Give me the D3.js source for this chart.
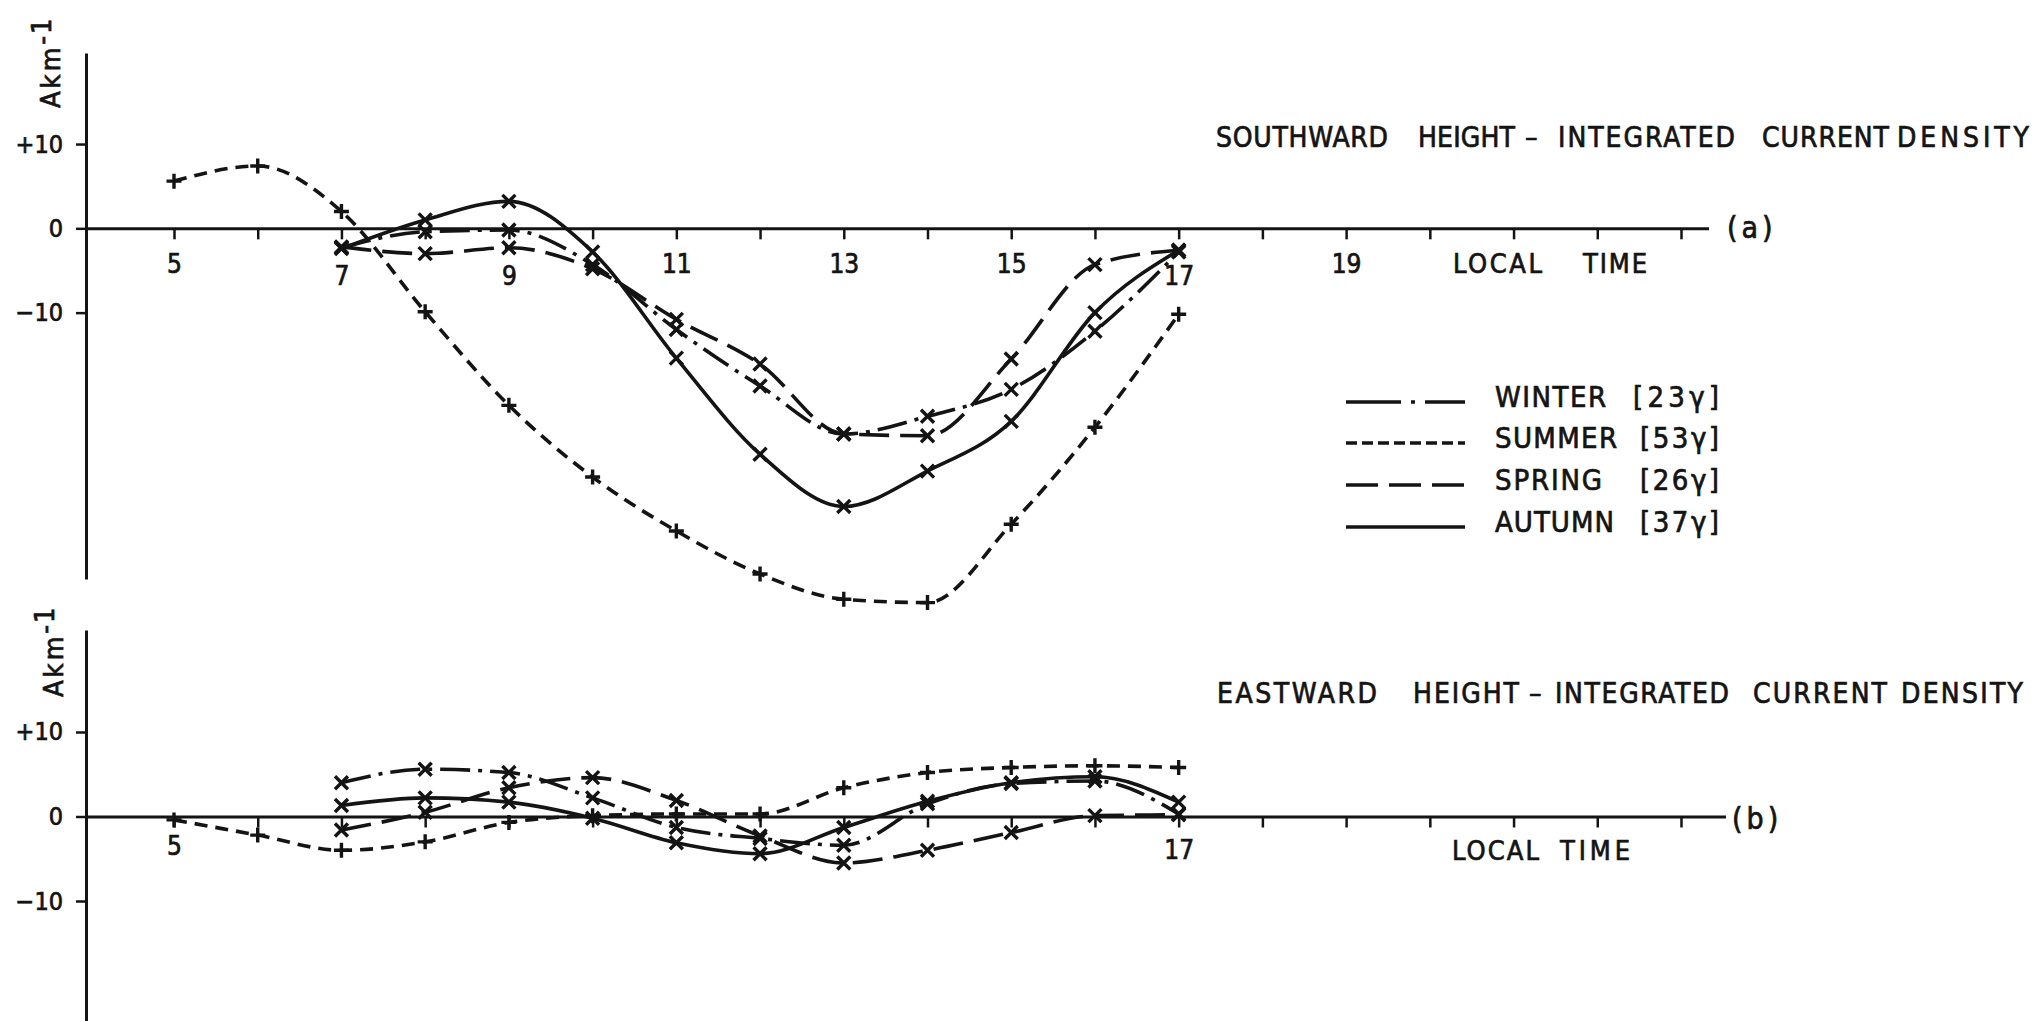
<!DOCTYPE html>
<html>
<head>
<meta charset="utf-8">
<title>Height-integrated current density</title>
<script src="https://cdn.jsdelivr.net/npm/d3@7"></script>
<style>
  html, body { margin: 0; background: #fff; }
  svg { display: block; }
  text { font-family: "DejaVu Sans Condensed", "Liberation Sans Narrow", sans-serif; fill: #141414; stroke: #141414; stroke-width: 0.7px; }
</style>
</head>
<body>
<svg id="chart" width="2044" height="1021"></svg>
<script>
// Local time (hours) of the hourly means
const hoursSummer = [5, 6, 7, 8, 9, 10, 11, 12, 13, 14, 15, 16, 17];
const hoursSeason = [7, 8, 9, 10, 11, 12, 13, 14, 15, 16, 17];

// (a) Southward height-integrated current density, A km^-1
const southSummer = [5.6, 7.4, 2.0, -9.9, -21.0, -29.5, -35.9, -41.0, -44.0, -44.4, -35.1, -23.6, -10.2];
const southWinter = [-2.3, -0.4, -0.2, -4.3, -12.0, -18.7, -24.4, -22.3, -19.1, -12.2, -2.8];
const southSpring = [-2.2, -3.0, -2.3, -4.8, -10.8, -16.1, -24.4, -24.6, -15.5, -4.3, -2.6];
const southAutumn = [-2.4, 1.0, 3.2, -2.8, -15.4, -26.8, -33.0, -28.8, -22.9, -10.0, -2.6];

// (b) Eastward height-integrated current density, A km^-1
const eastSummer = [-0.4, -2.2, -4.0, -3.0, -0.7, 0.1, 0.3, 0.3, 3.4, 5.2, 5.8, 6.0, 5.8];
const eastWinter = [4.0, 5.6, 5.2, 2.2, -1.3, -2.6, -3.4, 1.5, 3.9, 4.2, 0.3];
const eastSpring = [-1.6, 0.5, 3.4, 4.6, 1.9, -2.3, -5.5, -4.0, -1.9, 0.1, 0.2];
const eastAutumn = [1.3, 2.2, 1.7, -0.2, -3.1, -4.4, -1.3, 1.8, 4.0, 4.7, 1.7];

// Seasons and their mean magnetic disturbance
const seasonNames = ["WINTER", "SUMMER", "SPRING", "AUTUMN"];
const seasonAmplitude = ["[23γ]", "[53γ]", "[26γ]", "[37γ]"];

// Axis ticks
const hourTicks = [5, 6, 7, 8, 9, 10, 11, 12, 13, 14, 15, 16, 17, 18, 19, 20, 21, 22, 23];
const hourLabelsA = [5, 7, 9, 11, 13, 15, 17, 19];
const hourLabelsB = [5, 17];
const valueTicks = [-10, 0, 10];
const valueTickText = ["\u221210", "0", "+10"];

const ink = "#141414";
const svg = d3.select("#chart");
const x = d3.scaleLinear().domain([5, 23]).range([174, 1681]);
const yAxisX = 86;

const lineStyle = {
  WINTER: { dash: "30,8,4,8", marker: "x", legendDash: "55,10,4,10" },
  SUMMER: { dash: "13,8", marker: "+", legendDash: "11,5" },
  SPRING: { dash: "30,11", marker: "x", legendDash: "32,11" },
  AUTUMN: { dash: null, marker: "x", legendDash: null }
};
const markerPath = { "x": "M-6.5,-6.5L6.5,6.5M-6.5,6.5L6.5,-6.5", "+": "M-7.5,0H7.5M0,-7.5V7.5" };

// Place a row of words, each stretched to its own width
function wordRow(parent, words, xs, widths, baseline, size) {
  words.forEach((w, i) => {
    const t = parent.append("text")
      .attr("x", xs[i]).attr("y", baseline)
      .attr("font-size", size)
      .text(w);
    if (widths[i]) t.attr("textLength", widths[i]).attr("lengthAdjust", "spacing");
  });
}

function drawPanel(p) {
  const y = d3.scaleLinear().domain(p.domain).range([p.bottom, p.top]);
  const g = svg.append("g");

  // value axis
  const ya = g.append("g")
    .attr("transform", `translate(${yAxisX},0)`)
    .attr("font-family", null).attr("font-size", null)
    .call(d3.axisLeft(y).tickValues(valueTicks).tickSize(10).tickSizeOuter(0).tickPadding(13)
      .tickFormat((d, i) => valueTickText[i]));
  ya.select(".domain").attr("stroke", ink).attr("stroke-width", 3);
  ya.selectAll(".tick line").attr("stroke", ink).attr("stroke-width", 2.5);
  ya.selectAll(".tick text").attr("font-size", 25).attr("fill", ink);

  // time axis
  const xa = g.append("g")
    .attr("transform", `translate(0,${y(0)})`)
    .attr("font-family", null).attr("font-size", null)
    .call(d3.axisBottom(x).tickValues(hourTicks).tickSize(11).tickSizeOuter(0)
      .tickFormat(d => p.labels.includes(d) ? d : ""));
  xa.select(".domain").remove();
  xa.append("line")
    .attr("x1", yAxisX).attr("x2", p.xEnd)
    .attr("y1", 0.5).attr("y2", 0.5)
    .attr("stroke", ink).attr("stroke-width", 3);
  xa.selectAll(".tick line").attr("stroke", ink).attr("stroke-width", 2.5);
  xa.selectAll(".tick text")
    .attr("font-size", 26).attr("fill", ink).attr("dy", null)
    .attr("y", d => p.lowLabels.includes(d) ? p.labelLowY : p.labelY);

  // unit label
  const unit = g.append("text")
    .attr("transform", `translate(${p.unitX},${p.unitY}) rotate(-90)`)
    .attr("font-size", 27);
  unit.append("tspan").attr("letter-spacing", 3).text("Akm");
  unit.append("tspan").attr("dy", -9).attr("font-size", 27).attr("letter-spacing", 2).text("-1");

  // panel tag and headings
  g.append("text").attr("x", p.tagX).attr("y", p.tagY)
    .attr("font-size", 30).attr("letter-spacing", 4).text(p.tag);
  wordRow(g, p.title, p.titleX, p.titleW, p.titleY, 28);
  wordRow(g, ["LOCAL", "TIME"], p.timeX, p.timeW, p.timeY, 27);

  // season curves
  const line = d3.line()
    .x(d => x(d[0])).y(d => y(d[1]))
    .curve(d3.curveMonotoneX);
  p.series.forEach(s => {
    const st = lineStyle[s.name];
    const pts = s.hours.map((h, i) => [h, s.values[i]]);
    g.append("path")
      .datum(pts)
      .attr("d", line)
      .attr("fill", "none")
      .attr("stroke", ink)
      .attr("stroke-width", 3.6)
      .attr("stroke-linejoin", "round")
      .attr("stroke-dasharray", st.dash);
    g.selectAll(null)
      .data(pts)
      .join("path")
      .attr("transform", d => `translate(${x(d[0])},${y(d[1])})`)
      .attr("d", markerPath[st.marker])
      .attr("fill", "none")
      .attr("stroke", ink)
      .attr("stroke-width", 3.4);
  });
}

drawPanel({
  domain: [-41.6, 20.8], top: 53, bottom: 579, xEnd: 1709,
  labels: hourLabelsA, lowLabels: [7, 9, 17], labelY: 45, labelLowY: 57,
  unitX: 60, unitY: 108,
  tag: "(a)", tagX: 1727, tagY: 238,
  title: ["SOUTHWARD", "HEIGHT", "\u2013", "INTEGRATED", "CURRENT", "DENSITY"],
  titleX: [1216, 1418, 1525, 1558, 1762, 1897],
  titleW: [172, 97, 0, 177, 127, 132],
  titleY: 147,
  timeX: [1453, 1583], timeW: [89, 64], timeY: 273,
  series: [
    { name: "SUMMER", hours: hoursSummer, values: southSummer },
    { name: "WINTER", hours: hoursSeason, values: southWinter },
    { name: "SPRING", hours: hoursSeason, values: southSpring },
    { name: "AUTUMN", hours: hoursSeason, values: southAutumn }
  ]
});

drawPanel({
  domain: [-24.2, 22.07], top: 630, bottom: 1021, xEnd: 1726,
  labels: hourLabelsB, lowLabels: [17], labelY: 38, labelLowY: 42,
  unitX: 63, unitY: 697,
  tag: "(b)", tagX: 1732, tagY: 829,
  title: ["EASTWARD", "HEIGHT", "\u2013", "INTEGRATED", "CURRENT", "DENSITY"],
  titleX: [1217, 1413, 1529, 1555, 1753, 1901],
  titleW: [160, 106, 0, 174, 134, 122],
  titleY: 703,
  timeX: [1452, 1560], timeW: [87, 70], timeY: 860,
  series: [
    { name: "SUMMER", hours: hoursSummer, values: eastSummer },
    { name: "WINTER", hours: hoursSeason, values: eastWinter },
    { name: "SPRING", hours: hoursSeason, values: eastSpring },
    { name: "AUTUMN", hours: hoursSeason, values: eastAutumn }
  ]
});

// legend
const legendY = [407, 448, 490, 532];
const legendNameW = [111, 122, 107, 119];
const legendTagX = [1633, 1640, 1640, 1640];
const legend = svg.append("g");
seasonNames.forEach((name, i) => {
  legend.append("line")
    .attr("x1", 1346).attr("x2", 1465)
    .attr("y1", legendY[i] - 5).attr("y2", legendY[i] - 5)
    .attr("stroke", ink).attr("stroke-width", 3.6)
    .attr("stroke-dasharray", lineStyle[name].legendDash);
  legend.append("text")
    .attr("x", 1495).attr("y", legendY[i])
    .attr("font-size", 29)
    .attr("textLength", legendNameW[i]).attr("lengthAdjust", "spacing")
    .text(name);
  legend.append("text")
    .attr("x", legendTagX[i]).attr("y", legendY[i])
    .attr("font-size", 29)
    .attr("textLength", 1719 - legendTagX[i]).attr("lengthAdjust", "spacing")
    .text(seasonAmplitude[i]);
});
</script>
</body>
</html>
